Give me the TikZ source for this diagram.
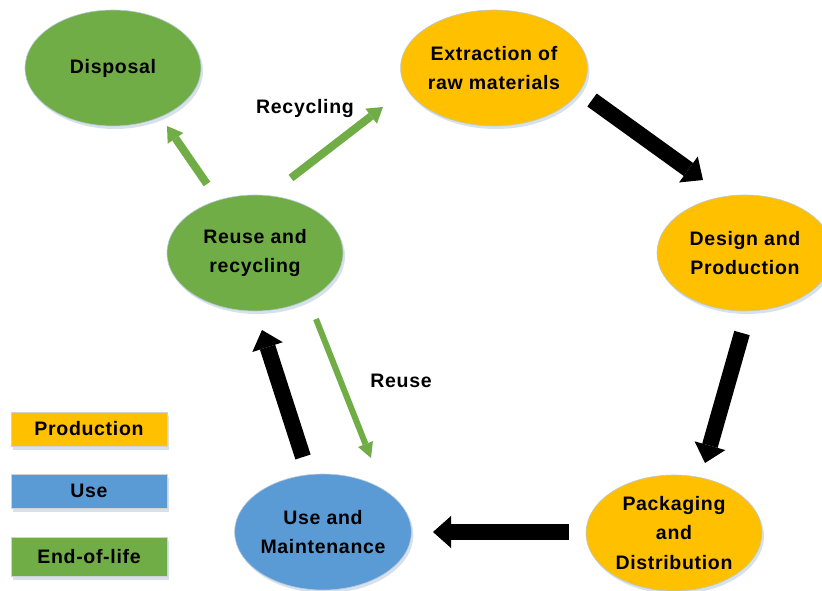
\documentclass[tikz,border=0pt]{standalone}
\usepackage{fontspec}
\setmainfont[LetterSpace=3.5]{Liberation Sans}
\usetikzlibrary{arrows.meta,shapes.geometric,shadows}
\definecolor{prodc}{HTML}{FFC000}
\definecolor{usec}{HTML}{5B9BD5}
\definecolor{eolc}{HTML}{70AD47}
\definecolor{rimc}{HTML}{B9C9DB}
\definecolor{shadc}{HTML}{D3DEEA}
\begin{document}
\begin{tikzpicture}[x=1bp,y=-1bp,
  txt/.style={font=\fontsize{19.5bp}{29.5bp}\selectfont\bfseries},
  stage/.style={ellipse, minimum width=176bp, minimum height=116bp, inner sep=0pt,
    draw=rimc, line width=0.6bp, align=center, txt,
    drop shadow={shadow xshift=2bp, shadow yshift=-3bp, fill=shadc, opacity=0.9}},
  key/.style={rectangle, minimum width=156bp, inner sep=0pt, draw=gray!35,
    line width=0.5bp, txt,
    drop shadow={shadow xshift=2bp, shadow yshift=-4bp, fill=shadc, opacity=0.9}},
  flow/.style={line width=16bp, -{Triangle[width=32bp,length=18bp,line width=0pt]}},
  greenflow/.style={draw=eolc, line width=8bp, -{Triangle[width=19bp,length=15bp,line width=0pt]}},
  thinflow/.style={draw=eolc, line width=6bp, -{Triangle[width=16bp,length=15bp,line width=0pt]}},
  tag/.style={txt, inner sep=0pt}
]
\useasboundingbox (0,0) rectangle (822,591);

% life-cycle stages
\node[stage, fill=eolc]  (disp) at (113,68)  {Disposal};
\node[stage, fill=prodc] (extr) at (494,68)  {Extraction of\\raw materials};
\node[stage, fill=prodc] (desi) at (745,253) {Design and\\Production};
\node[stage, fill=eolc]  (reus) at (255,253) {Reuse and\\recycling};
\node[stage, fill=usec]  (usem) at (323,532) {Use and\\Maintenance};
\node[stage, fill=prodc] (pack) at (674,533) {Packaging\\and\\Distribution};

% legend
\node[key, fill=prodc, minimum height=34bp] (kprod) at (89,429)   {Production};
\node[key, fill=usec,  minimum height=34bp] (kuse)  at (89,491)   {Use};
\node[key, fill=eolc,  minimum height=39bp] (keol)  at (89,556.5) {End-of-life};

% arrow end points
\coordinate (g1s) at (207,184); \coordinate (g1e) at (167,126);
\coordinate (g2s) at (291,178); \coordinate (g2e) at (383,107);
\coordinate (k1s) at (592,100); \coordinate (k1e) at (703,180);
\coordinate (k2s) at (742,333); \coordinate (k2e) at (705,463);
\coordinate (k3s) at (569,532); \coordinate (k3e) at (433,532);
\coordinate (k4s) at (303,457); \coordinate (k4e) at (262,330);
\coordinate (g3s) at (316,319); \coordinate (g3e) at (371,458);

% main cycle
\draw[flow] (k1s) -- (k1e);
\draw[flow] (k2s) -- (k2e);
\draw[flow] (k3s) -- (k3e);
\draw[flow] (k4s) -- (k4e);

% end-of-life routes
\draw[greenflow] (g1s) -- (g1e);
\draw[greenflow] (g2s) -- (g2e);
\draw[thinflow]  (g3s) -- (g3e);

\node[tag] (lrec) at (305,109) {Recycling};
\node[tag] (lreu) at (401,381) {Reuse};
\end{tikzpicture}
\end{document}
